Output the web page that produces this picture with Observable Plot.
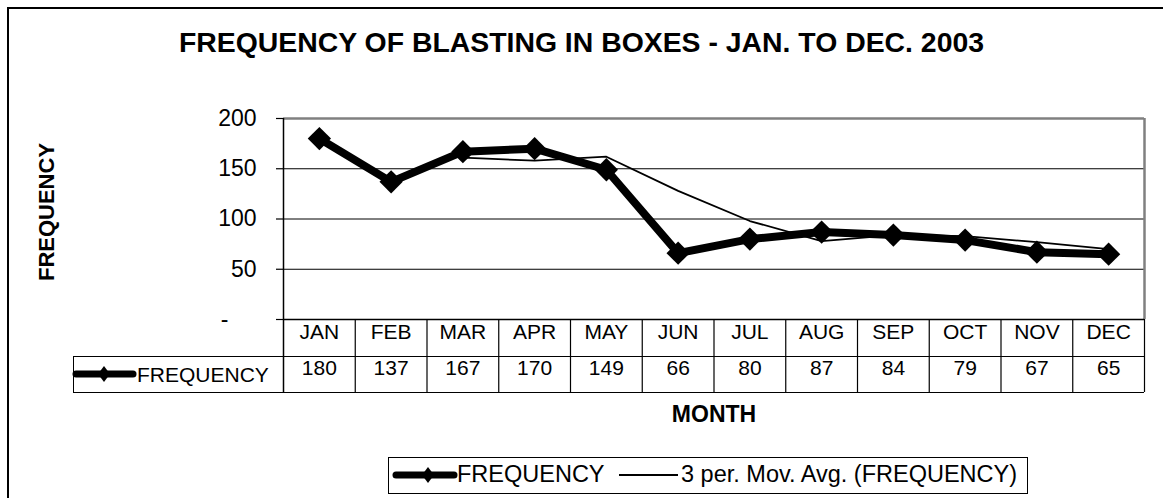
<!DOCTYPE html>
<html><head><meta charset="utf-8">
<script src="https://cdn.jsdelivr.net/npm/d3@7"></script>
<script src="https://cdn.jsdelivr.net/npm/@observablehq/plot@0.6"></script>
<style>
body{margin:0;background:#fff;}
#wrap{position:relative;width:1163px;height:498px;overflow:hidden;background:#fff;font-family:"Liberation Sans",Arial,sans-serif;color:#000;}
#frame{position:absolute;left:7px;top:7px;width:1300px;height:700px;border-left:2px solid #000;border-top:2px solid #000;}
#chart{position:absolute;left:0;top:0;}
.t{position:absolute;white-space:nowrap;line-height:1;}
#deco{position:absolute;left:0;top:0;pointer-events:none;}
</style></head><body>
<div id="wrap">
  <div id="frame"></div>
  <div id="chart"></div>
  <div class="t" style="left:0;width:1163px;text-align:center;top:28px;font-size:28.4px;font-weight:bold;">FREQUENCY OF BLASTING IN BOXES - JAN. TO DEC. 2003</div>
  <div class="t" style="left:47px;top:212px;font-size:22px;font-weight:bold;transform:translate(-50%,-50%) rotate(-90deg);">FREQUENCY</div>
  <div class="t" style="left:714px;top:414px;font-size:23px;font-weight:bold;transform:translate(-50%,-50%);">MONTH</div>
  <div style="position:absolute;left:73px;top:356px;width:211px;height:37px;box-sizing:border-box;border:1px solid #000;"></div>
  <div class="t" style="left:137px;top:364px;font-size:21px;">FREQUENCY</div>
  <div style="position:absolute;left:388px;top:457px;width:640px;height:37px;box-sizing:border-box;border:1px solid #000;"></div>
  <div class="t" style="left:457px;top:463px;font-size:23.5px;">FREQUENCY</div>
  <div class="t" style="left:681px;top:463px;font-size:23.5px;">3 per. Mov. Avg. (FREQUENCY)</div>
  <svg id="deco" width="1163" height="498">
    <line x1="76" y1="374" x2="133" y2="374" stroke="#000" stroke-width="7" stroke-linecap="round"/>
    <path d="M104,366 L110,374 L104,382 L98,374 Z" fill="#000"/>
    <line x1="396" y1="475" x2="454" y2="475" stroke="#000" stroke-width="7" stroke-linecap="round"/>
    <path d="M428,467 L434,475 L428,483 L422,475 Z" fill="#000"/>
    <line x1="619" y1="475" x2="678" y2="475" stroke="#000" stroke-width="1.8"/>
  </svg>
</div>
<script>
const months = ["JAN","FEB","MAR","APR","MAY","JUN","JUL","AUG","SEP","OCT","NOV","DEC"];
const frequency = [180,137,167,170,149,66,80,87,84,79,67,65];
const movingAvg = [null,null,161,158,162,128,98,78,84,83,77,70];
const yTicks = [50,100,150,200];
const gridTicks = [50,100,150];

const data = months.map((m,i)=>({i, month:m, freq:frequency[i], ma:movingAvg[i]}));
const maData = data.filter(d=>d.ma!=null);
const edges = d3.range(months.length+1).map(i=>i-0.5);

const chart = Plot.plot({
  width:1163, height:498,
  marginLeft:283, marginRight:19, marginTop:118, marginBottom:179,
  style:{fontFamily:"'Liberation Sans', Arial, sans-serif", fontSize:"21px", color:"#000", background:"transparent", overflow:"visible"},
  x:{type:"linear", domain:[-0.5, months.length-0.5], axis:null},
  y:{domain:[0,200], axis:null},
  marks:[
    Plot.gridY(gridTicks, {stroke:"#000", strokeOpacity:1, strokeWidth:1}),
    Plot.ruleY([200], {stroke:"#808080", strokeWidth:2.5}),
    Plot.ruleX([months.length-0.5], {stroke:"#808080", strokeWidth:2.5}),
    Plot.axisY(yTicks, {tickSize:7, tickPadding:20, stroke:"#000", strokeWidth:1.2, fontSize:23, label:null}),
    Plot.axisY([0], {tickSize:7, tickPadding:48, stroke:"#000", strokeWidth:1.2, fontSize:23, label:null, tickFormat:()=>"-"}),
    // data table grid
    Plot.ruleX(edges.slice(1), {stroke:"#000", strokeWidth:1.2, insetTop:201, insetBottom:-73}),
    Plot.ruleX([edges[0]], {stroke:"#000", strokeWidth:1.5, insetBottom:-73}),
    Plot.ruleY([0], {stroke:"#000", strokeWidth:1.5}),
    Plot.ruleY([0], {stroke:"#000", strokeWidth:1.2, dy:37, insetLeft:-210}),
    Plot.ruleY([0], {stroke:"#000", strokeWidth:1.2, dy:73, insetLeft:-210}),
    Plot.text(data, {x:"i", text:"month", frameAnchor:"bottom", dy:19, fill:"#000", fontSize:21}),
    Plot.text(data, {x:"i", text:d=>String(d.freq), frameAnchor:"bottom", dy:55, fill:"#000", fontSize:21}),
    // series
    Plot.line(data, {x:"i", y:"freq", stroke:"#000", strokeWidth:8, strokeLinejoin:"round"}),
    Plot.dot(data, {x:"i", y:"freq", symbol:"diamond2", r:10.5, fill:"#000", stroke:"none"}),
    Plot.line(maData, {x:"i", y:"ma", stroke:"#000", strokeWidth:1.8})
  ]
});
document.getElementById("chart").appendChild(chart);
</script>
</body></html>
